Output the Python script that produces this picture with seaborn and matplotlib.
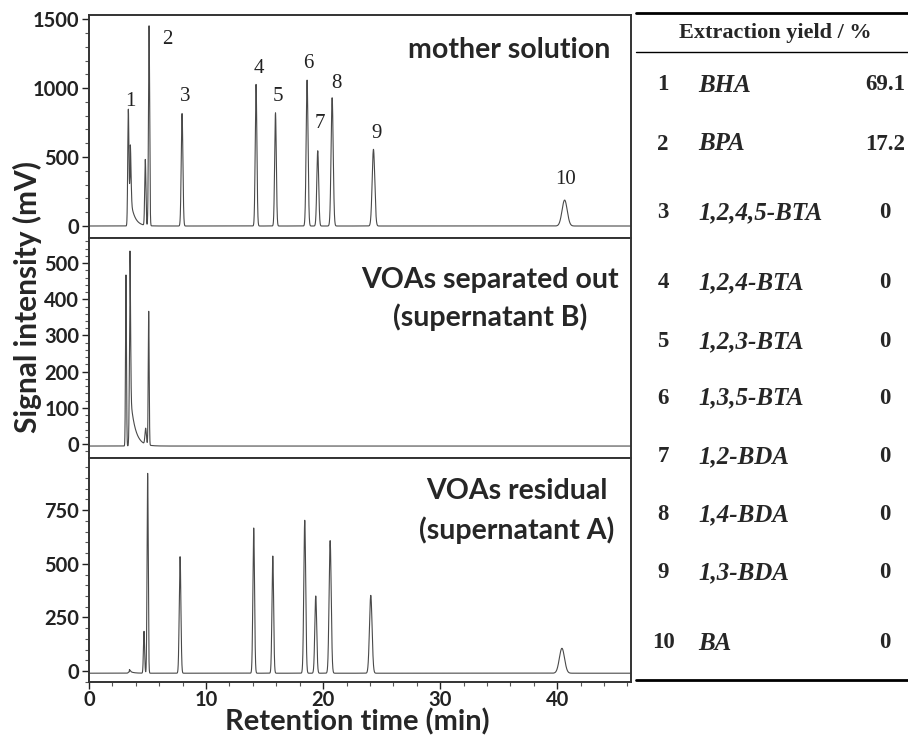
import numpy as np
import pandas as pd
import matplotlib
matplotlib.use("Agg")
import matplotlib.pyplot as plt
from matplotlib.lines import Line2D
from matplotlib.ticker import MultipleLocator
import seaborn as sns

# ---- peak tables (retention time / min, apex height / mV, peak sigma / min) ----
t_mother = [3.36, 3.53, 4.81, 5.13, 7.95, 14.27, 15.93, 18.63, 19.54, 20.77, 24.30, 40.63]
h_mother = [840, 587, 478, 1451, 816, 1027, 821, 1058, 546, 930, 556, 188]
w_mother = [0.05, 0.06, 0.05, 0.05, 0.07, 0.07, 0.07, 0.08, 0.08, 0.09, 0.11, 0.22]
tail_mother = (3.53, 200, 0.35)      # solvent tail: start, amplitude, decay
base_mother = 0

t_sepB = [3.16, 3.50, 4.84, 5.10]
h_sepB = [472, 538, 44, 369]
w_sepB = [0.04, 0.05, 0.06, 0.04]
tail_sepB = (3.50, 150, 0.40)
base_sepB = -5

t_resA = [3.45, 4.70, 5.01, 7.78, 14.07, 15.70, 18.43, 19.37, 20.60, 24.07, 40.40]
h_resA = [17, 195, 932, 543, 677, 546, 713, 360, 618, 363, 116]
w_resA = [0.08, 0.05, 0.05, 0.07, 0.07, 0.07, 0.08, 0.08, 0.09, 0.11, 0.22]
tail_resA = (3.45, 10, 0.30)
base_resA = -10

panel_titles = ["mother solution", "VOAs separated out\n(supernatant B)", "VOAs residual\n(supernatant A)"]

peak_ids = ["1", "2", "3", "4", "5", "6", "7", "8", "9", "10"]
compounds = ["BHA", "BPA", "1,2,4,5-BTA", "1,2,4-BTA", "1,2,3-BTA", "1,3,5-BTA",
             "1,2-BDA", "1,4-BDA", "1,3-BDA", "BA"]
yields = ["69.1", "17.2", "0", "0", "0", "0", "0", "0", "0", "0"]


def trace(times, heights, sigmas, tail, base):
    t = np.arange(0, 46.3, 0.004)
    y = np.full_like(t, float(base))
    t0, amp, tau = tail
    for tc, h, s in zip(times, heights, sigmas):
        hh = h - amp if abs(tc - t0) < 1e-9 else h
        y += hh * np.exp(-0.5 * ((t - tc) / s) ** 2)
    after = t >= t0
    y[after] += amp * np.exp(-(t[after] - t0) / tau)
    return pd.DataFrame({"time": t, "signal": y})


sns.set_theme(style="ticks")
sans = ["Lato", "DejaVu Sans"]
serif = ["Liberation Serif", "DejaVu Serif"]
plt.rcParams["font.family"] = sans

W, H = 908, 742
fig = plt.figure(figsize=(W / 100, H / 100), dpi=100)


def fx(px):
    return px / W


def fy(py):
    return 1 - py / H


left, right = 89, 631
rows = [(15, 238), (238, 458), (458, 682)]
axes = [fig.add_axes([fx(left), fy(b), fx(right - left), (b - t) / H]) for t, b in rows]

data = [
    trace(t_mother, h_mother, w_mother, tail_mother, base_mother),
    trace(t_sepB, h_sepB, w_sepB, tail_sepB, base_sepB),
    trace(t_resA, h_resA, w_resA, tail_resA, base_resA),
]
ylims = [(-87, 1530), (-38, 569), (-51, 993)]
majors = [500, 100, 250]
minors = [100, 20, 50]

for i, (ax, df) in enumerate(zip(axes, data)):
    sns.lineplot(data=df, x="time", y="signal", ax=ax, color="#4a4a4a",
                 linewidth=0.8, estimator=None, legend=False)
    ax.set_xlim(0, 46.3)
    ax.set_ylim(*ylims[i])
    ax.yaxis.set_major_locator(MultipleLocator(majors[i]))
    ax.yaxis.set_minor_locator(MultipleLocator(minors[i]))
    ax.xaxis.set_major_locator(MultipleLocator(10))
    ax.xaxis.set_minor_locator(MultipleLocator(2))
    ax.set_xlabel("")
    ax.set_ylabel("")
    for sp in ax.spines.values():
        sp.set_visible(True)
        sp.set_linewidth(1.4)
        sp.set_color("#333333")
    ax.tick_params(axis="y", which="major", direction="out", length=5, width=1.0,
                   labelsize=14.5, pad=2, colors="#222222")
    ax.tick_params(axis="y", which="minor", direction="out", length=3, width=0.8, colors="#555555")
    for lab in ax.get_yticklabels():
        lab.set_fontweight("bold")
    if i < 2:
        ax.tick_params(axis="x", which="both", bottom=False, labelbottom=False)
    else:
        ax.tick_params(axis="x", which="major", direction="out", length=5, width=1.0,
                       labelsize=14.5, pad=1, colors="#222222")
        ax.tick_params(axis="x", which="minor", direction="out", length=3, width=0.8, colors="#555555")
        for lab in ax.get_xticklabels():
            lab.set_fontweight("bold")

# peak numbers on the mother-solution trace
label_xy = [(3.5, 900), (6.67, 1355), (8.2, 942), (14.5, 1145), (16.1, 942),
            (18.7, 1181), (19.7, 746), (21.1, 1036), (24.6, 674), (40.7, 340)]
for pid, (x, y) in zip(peak_ids, label_xy):
    axes[0].text(x, y, pid, ha="center", va="center", fontsize=15, family=serif, color="#222222")

# panel captions
cap = dict(ha="center", va="center", fontsize=20.5, fontweight="bold", family=sans)
fig.text(fx(509), fy(50), panel_titles[0], **cap)
l1, l2 = panel_titles[1].split("\n")
fig.text(fx(490), fy(280), l1, **cap)
fig.text(fx(490), fy(317), l2, **cap)
l1, l2 = panel_titles[2].split("\n")
fig.text(fx(517), fy(491), l1, **cap)
fig.text(fx(517), fy(530), l2, **cap)

# axis titles
fig.text(fx(27), fy(297), "Signal intensity (mV)", rotation=90, ha="center", va="center",
         fontsize=21.5, fontweight="bold", family=sans)
fig.text(fx(357), fy(722), "Retention time (min)", ha="center", va="center",
         fontsize=21, fontweight="bold", family=sans)

# extraction-yield table
tx0, tx1 = 636, 908
fig.add_artist(Line2D([fx(tx0), fx(tx1)], [fy(13), fy(13)], color="black", lw=2.0))
fig.add_artist(Line2D([fx(tx0), fx(tx1)], [fy(52), fy(52)], color="black", lw=1.0))
fig.add_artist(Line2D([fx(tx0), fx(tx1)], [fy(680), fy(680)], color="black", lw=2.0))
fig.text(fx(775), fy(33), "Extraction yield / %", ha="center", va="center",
         fontsize=16, fontweight="bold", family=serif)
row_y = [85, 144, 213, 283, 342, 398, 457, 515, 573, 643]
for pid, name, val, yy in zip(peak_ids, compounds, yields, row_y):
    fig.text(fx(663), fy(yy), pid, ha="center", va="center", fontsize=16.5,
             fontweight="bold", family=serif)
    fig.text(fx(698), fy(yy), name, ha="left", va="center", fontsize=18,
             fontweight="bold", fontstyle="italic", family=serif)
    fig.text(fx(885), fy(yy), val, ha="center", va="center", fontsize=16.5,
             fontweight="bold", family=serif)

fig.savefig("out.png", dpi=100)
